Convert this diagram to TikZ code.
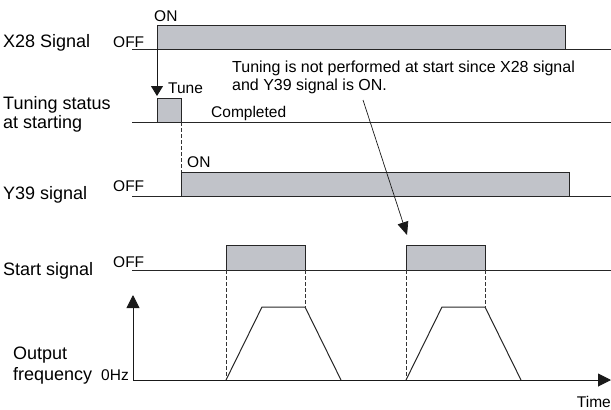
\documentclass[tikz,border=0pt]{standalone}
\usepackage{fontspec}
\setmainfont{Liberation Sans}
\usetikzlibrary{arrows.meta}
\definecolor{sig}{RGB}{193,195,201}
\begin{document}
\begin{tikzpicture}[x=1pt,y=-1pt,
  lbl/.style={anchor=base west,inner sep=0pt,font=\fontsize{18}{20}\selectfont},
  sm/.style={anchor=base west,inner sep=0pt,font=\fontsize{15.5}{18}\selectfont},
  nt/.style={anchor=base west,inner sep=0pt,font=\fontsize{16}{18}\selectfont},
  pulse/.style={draw=black!85,fill=sig,line width=1pt},
  base/.style={draw=black!85,line width=1pt},
  guide/.style={draw=black!80,dash pattern=on 3.5pt off 2.5pt,line width=0.7pt},
  arr/.style={draw=black!90,-{Triangle[length=10pt,width=12pt]},line width=1pt},
  axarr/.style={draw=black!90,-{Triangle[length=13pt,width=13pt]},line width=1pt},
  thinarr/.style={draw=black!90,-{Triangle[length=13pt,width=11pt]},line width=0.7pt}]
\useasboundingbox (0,0) rectangle (611,410);

% ---------- X28 ----------
\node[lbl] (lx28) at (3,47) {X28 Signal};
\node[sm] (offx) at (113,47) {OFF};
\node[sm] (onx) at (154,21) {ON};
\coordinate (x28a) at (132,49);
\coordinate (x28b) at (611,49);
\coordinate (x28on) at (157,49);
\coordinate (x28off) at (565,25);
\draw[pulse] (x28on) rectangle (x28off);
\draw[base] (x28a) -- (x28b);

% ---------- Tuning status ----------
\node[lbl] (lts1) at (3,109) {Tuning status};
\node[lbl] (lts2) at (3,128) {at starting};
\coordinate (tsa) at (132,122);
\coordinate (tsb) at (611,122);
\coordinate (tuneon) at (157,122);
\coordinate (tuneoff) at (181,98);
\coordinate (tunetop) at (157,96);
\draw[pulse] (tuneon) rectangle (tuneoff);
\draw[base] (tsa) -- (tsb);
\draw[arr] (x28on) -- (tunetop);
\node[sm] (tune) at (168,93) {Tune};
\node[sm] (compl) at (211,117) {Completed};

% ---------- Y39 ----------
\node[lbl] (ly39) at (3,199) {Y39 signal};
\node[sm] (offy) at (113,191) {OFF};
\node[sm] (ony) at (187,167) {ON};
\coordinate (ya) at (132,196);
\coordinate (yb) at (611,196);
\coordinate (yon) at (181,196);
\coordinate (yoff) at (569,172);
\coordinate (tuneend) at (181,122);
\coordinate (ytop) at (181,172);
\draw[pulse] (yon) rectangle (yoff);
\draw[base] (ya) -- (yb);
\draw[guide] (tuneend) -- (ytop);

% ---------- Start signal ----------
\node[lbl] (lst) at (3,275) {Start signal};
\node[sm] (offs) at (113,267) {OFF};
\coordinate (sa) at (132,270);
\coordinate (sb) at (611,270);
\coordinate (s1on) at (226,270);
\coordinate (s1off) at (305,245);
\coordinate (s2on) at (406,270);
\coordinate (s2off) at (485,245);
\draw[pulse] (s1on) rectangle (s1off);
\draw[pulse] (s2on) rectangle (s2off);
\draw[base] (sa) -- (sb);

% ---------- Output frequency ----------
\node[lbl] (lo1) at (13,359) {Output};
\node[lbl] (lo2) at (13,380) {frequency};
\node[sm,anchor=base east] (hz) at (129,380) {0Hz};
\coordinate (org) at (133,380);
\coordinate (ytip) at (133,295);
\coordinate (xtip) at (611,380);
\draw[axarr] (org) -- (ytip);
\draw[axarr] (org) -- (xtip);
\node[sm,anchor=base east] (time) at (611,407) {Time};

\coordinate (f1a) at (226,380);
\coordinate (f1b) at (262,307);
\coordinate (f1c) at (305,307);
\coordinate (f1d) at (341,380);
\coordinate (f2a) at (406,380);
\coordinate (f2b) at (442,307);
\coordinate (f2c) at (485,307);
\coordinate (f2d) at (521,380);
\draw[base] (f1a) -- (f1b) -- (f1c) -- (f1d);
\draw[base] (f2a) -- (f2b) -- (f2c) -- (f2d);

\coordinate (g1t) at (226,270);
\coordinate (g2t) at (305,270);
\coordinate (g3t) at (406,270);
\coordinate (g4t) at (485,270);
\draw[guide] (g1t) -- (f1a);
\draw[guide] (g2t) -- (f1c);
\draw[guide] (g3t) -- (f2a);
\draw[guide] (g4t) -- (f2c);

% ---------- Annotation ----------
\node[nt] (note1) at (232,72) {Tuning is not performed at start since X28 signal};
\node[nt] (note2) at (232,90) {and Y39 signal is ON.};
\coordinate (nstart) at (363,100);
\coordinate (ntip) at (407,235);
\draw[thinarr] (nstart) -- (ntip);
\end{tikzpicture}
\end{document}
